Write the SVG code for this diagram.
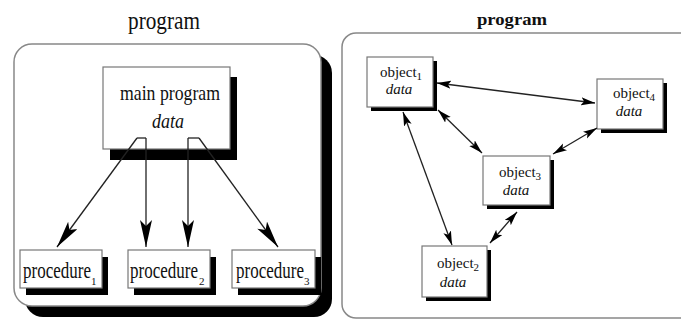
<svg xmlns="http://www.w3.org/2000/svg" width="681" height="320" viewBox="0 0 681 320">
<style>
.serif{font-family:"Liberation Serif","Times New Roman",serif;fill:#111}
.big{font-size:26px}
.mp{font-size:22px}
.proc{font-size:17px}
.obj{font-size:15px}
.it{font-style:italic}
.sub{font-size:11px}
.psub{font-size:11px}
.panel{fill:#fff;stroke:#888;stroke-width:1.5}
.shadow{fill:#000}
.box{fill:#fff;stroke:#777;stroke-width:1.2}
.conn{fill:none;stroke:#222;stroke-width:1.3}
</style>
<defs>
<marker id="dart" markerUnits="userSpaceOnUse" markerWidth="30" markerHeight="14" refX="27" refY="6" orient="auto">
<path d="M0,0 L27,6 L0,12 L6,6 z" fill="#000"/>
</marker>
<marker id="ah" markerUnits="userSpaceOnUse" markerWidth="15" markerHeight="9" refX="14" refY="4" orient="auto-start-reverse">
<path d="M0,0 L14,4 L0,8 L3,4 z" fill="#000"/>
</marker>
</defs>

<!-- Left panel -->
<g id="left-panel">
<rect class="shadow" x="25" y="55" width="307" height="262" rx="18"/>
<rect class="panel" x="14" y="44" width="307" height="262" rx="18"/>
<text class="serif big" x="164" y="29" text-anchor="middle" textLength="72" lengthAdjust="spacingAndGlyphs">program</text>
</g>

<g id="main-program">
<rect class="shadow" x="110" y="77" width="127" height="83"/>
<rect class="box" x="103" y="67" width="127" height="82"/>
<text class="serif mp" x="170" y="100" text-anchor="middle" textLength="100" lengthAdjust="spacingAndGlyphs">main program</text>
<text class="serif mp it" x="168" y="128" text-anchor="middle" textLength="32" lengthAdjust="spacingAndGlyphs">data</text>
</g>

<g id="procedure1">
<rect class="shadow" x="26" y="257" width="82" height="38"/>
<rect class="box" x="20" y="250" width="82" height="38"/>
<text class="serif proc" transform="translate(23,278) scale(1,1.35)">procedure</text>
<text class="serif psub" x="91" y="285">1</text>
</g>
<g id="procedure2">
<rect class="shadow" x="134" y="257" width="82" height="38"/>
<rect class="box" x="128" y="250" width="82" height="38"/>
<text class="serif proc" transform="translate(130,278) scale(1,1.35)">procedure</text>
<text class="serif psub" x="199" y="285">2</text>
</g>
<g id="procedure3">
<rect class="shadow" x="238" y="257" width="83" height="38"/>
<rect class="box" x="232" y="250" width="83" height="38"/>
<text class="serif proc" transform="translate(236,278) scale(1,1.35)">procedure</text>
<text class="serif psub" x="304" y="285">3</text>
</g>

<!-- Right panel -->
<g id="right-panel">
<rect class="panel" x="342" y="33" width="360" height="285" rx="14"/>
<text class="serif" x="512" y="25" text-anchor="middle" font-size="17" font-weight="bold" textLength="70" lengthAdjust="spacingAndGlyphs">program</text>
</g>

<g id="object1">
<rect class="shadow" x="371" y="61" width="66" height="50"/>
<rect class="box" x="367" y="57" width="66" height="50"/>
<text class="serif obj" x="401" y="77" text-anchor="middle">object<tspan class="sub" dy="3">1</tspan></text>
<text class="serif obj it" x="399" y="94" text-anchor="middle">data</text>
</g>
<g id="object4">
<rect class="shadow" x="601" y="83" width="66" height="50"/>
<rect class="box" x="597" y="79" width="66" height="50"/>
<text class="serif obj" x="634" y="98" text-anchor="middle">object<tspan class="sub" dy="3">4</tspan></text>
<text class="serif obj it" x="629" y="116" text-anchor="middle">data</text>
</g>
<g id="object3">
<rect class="shadow" x="487" y="160" width="67" height="49"/>
<rect class="box" x="483" y="156" width="67" height="49"/>
<text class="serif obj" x="520" y="177" text-anchor="middle">object<tspan class="sub" dy="3">3</tspan></text>
<text class="serif obj it" x="516" y="195" text-anchor="middle">data</text>
</g>
<g id="object2">
<rect class="shadow" x="426" y="250" width="65" height="51"/>
<rect class="box" x="422" y="246" width="65" height="51"/>
<text class="serif obj" x="458" y="268" text-anchor="middle">object<tspan class="sub" dy="3">2</tspan></text>
<text class="serif obj it" x="453" y="287" text-anchor="middle">data</text>
</g>

<!-- Connectors -->
<g id="connectors">
<path class="conn" d="M137,138 H146"/>
<path class="conn" d="M188,138 H199"/>
<path class="conn" d="M137,138 L57,247" marker-end="url(#dart)"/>
<path class="conn" d="M146,138 L146,247" marker-end="url(#dart)"/>
<path class="conn" d="M188,138 L188,247" marker-end="url(#dart)"/>
<path class="conn" d="M199,138 L278,247" marker-end="url(#dart)"/>

<path class="conn" d="M437,83 L595,103" marker-start="url(#ah)" marker-end="url(#ah)"/>
<path class="conn" d="M438,110 L482,153" marker-start="url(#ah)" marker-end="url(#ah)"/>
<path class="conn" d="M597,128 L553,154" marker-start="url(#ah)" marker-end="url(#ah)"/>
<path class="conn" d="M403,112 L452,245" marker-start="url(#ah)" marker-end="url(#ah)"/>
<path class="conn" d="M517,212 L490,243" marker-start="url(#ah)" marker-end="url(#ah)"/>
</g>
</svg>
